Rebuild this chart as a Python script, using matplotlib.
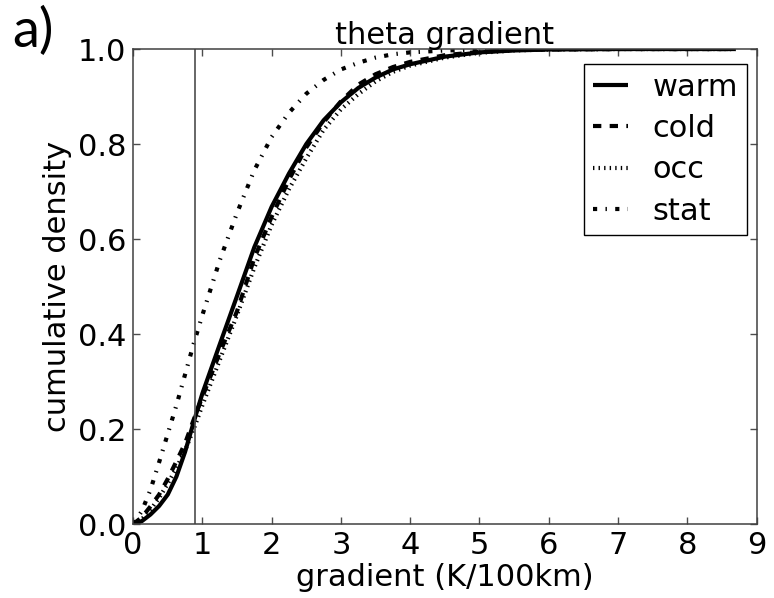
import matplotlib

matplotlib.use("Agg")
import matplotlib.pyplot as plt  # noqa: E402

# gradient values (K/100km) where the cumulative curves were read
gradient = [0, 0.125, 0.25, 0.375, 0.5, 0.625, 0.75, 0.875, 1.0, 1.25, 1.5,
            1.75, 2.0, 2.25, 2.5, 2.75, 3.0, 3.25, 3.5, 3.75, 4.0, 4.5, 5.0,
            5.5, 6.0, 7.0, 8.0, 8.7]

warm = [0, 0.006, 0.02, 0.038, 0.062, 0.1, 0.152, 0.215, 0.275, 0.378, 0.48,
        0.583, 0.668, 0.738, 0.8, 0.85, 0.888, 0.918, 0.94, 0.957, 0.968,
        0.984, 0.993, 0.997, 0.999, 1.0, 1.0, 1.0]
cold = [0, 0.014, 0.037, 0.062, 0.095, 0.132, 0.17, 0.22, 0.268, 0.36, 0.448,
        0.56, 0.647, 0.725, 0.793, 0.846, 0.89, 0.925, 0.947, 0.962, 0.973,
        0.987, 0.994, 0.998, 0.999, 1.0, 1.0, 1.0]
occ = [0, 0.01, 0.03, 0.055, 0.085, 0.118, 0.155, 0.2, 0.25, 0.345, 0.44,
       0.54, 0.63, 0.705, 0.77, 0.83, 0.873, 0.905, 0.932, 0.952, 0.965,
       0.982, 0.992, 0.997, 0.999, 1.0, 1.0, 1.0]
stat = [0, 0.027, 0.072, 0.13, 0.19, 0.25, 0.315, 0.38, 0.44, 0.555, 0.655,
        0.745, 0.815, 0.866, 0.906, 0.935, 0.957, 0.971, 0.982, 0.989, 0.993,
        0.997, 0.999, 1.0, 1.0, 1.0, 1.0, 1.0]

series = [
    ("warm", warm, (None, None)),
    ("cold", cold, (6, 6)),
    ("occ", occ, (1, 3)),
    ("stat", stat, (3, 6, 1, 6)),
]

threshold = 0.89

x_ticks = list(range(10))
y_ticks = [0.0, 0.2, 0.4, 0.6, 0.8, 1.0]

plt.rcParams["font.family"] = "DejaVu Sans"
plt.rcParams["lines.scale_dashes"] = False

fig = plt.figure(figsize=(7.74, 5.98), dpi=100)
ax = fig.add_axes([0.172, 0.1237, 0.8055, 0.7943])

for label, values, dashes in series:
    line, = ax.plot(gradient, values, color="black", lw=3, label=label,
                    solid_capstyle="butt", dash_capstyle="butt")
    if dashes[0] is not None:
        line.set_dashes(dashes)

ax.axvline(threshold, color="0.3", lw=1.2)

ax.set_xlim(0, 9)
ax.set_ylim(0, 1)
ax.set_xticks(x_ticks)
ax.set_yticks(y_ticks)
ax.set_yticklabels([f"{v:.1f}" for v in y_ticks])
ax.tick_params(direction="in", length=5, width=1, labelsize=22, pad=5,
               top=True, right=True, color="0.3")
for spine in ax.spines.values():
    spine.set_color("0.25")
    spine.set_linewidth(1.1)

ax.set_title("theta gradient", fontsize=22, pad=3.5)
ax.set_xlabel("gradient (K/100km)", fontsize=22, labelpad=2)
ax.set_ylabel("cumulative density", fontsize=22, labelpad=4)

leg = ax.legend(loc="upper right", bbox_to_anchor=(0.985, 0.969),
                borderaxespad=0, fontsize=22, handlelength=1.15,
                handletextpad=0.8, labelspacing=0.4, borderpad=0.3,
                fancybox=False, framealpha=1)
leg.get_frame().set_edgecolor("black")
leg.get_frame().set_linewidth(1.0)

fig.text(12 / 774, 1 - 47 / 598, "a)", fontsize=39, family="Lato",
         va="baseline")

fig.savefig("out.png", dpi=100)
